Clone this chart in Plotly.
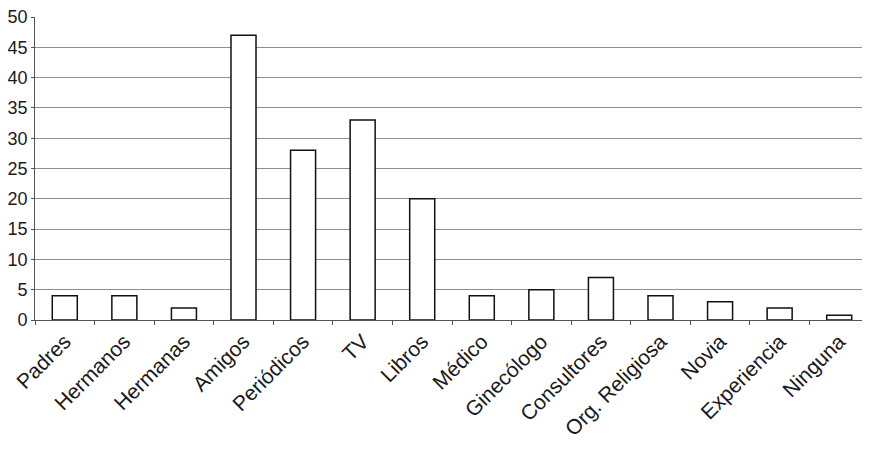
import plotly.graph_objects as go

categories = ["Padres", "Hermanos", "Hermanas", "Amigos", "Periódicos", "TV", "Libros",
              "Médico", "Ginecólogo", "Consultores", "Org. Religiosa", "Novia",
              "Experiencia", "Ninguna"]
values = [4, 4, 2, 47, 28, 33, 20, 4, 5, 7, 4, 3, 2, 0.8]
y_ticks = [0, 5, 10, 15, 20, 25, 30, 35, 40, 45, 50]

fig = go.Figure(go.Bar(
    x=categories, y=values,
    marker=dict(color="white", line=dict(color="#111111", width=1.5)),
    width=0.42,
))

fig.update_layout(
    width=862, height=441,
    margin=dict(l=27, r=1, t=9, b=129),
    paper_bgcolor="white", plot_bgcolor="white",
    showlegend=False,
    font=dict(family="Liberation Sans, Arial, sans-serif", color="#1a1a1a"),
    bargap=0.58,
)
fig.update_yaxes(
    range=[0, 50], tickvals=y_ticks,
    showgrid=True, gridcolor="#8f8f8f", gridwidth=1,
    showline=True, linecolor="#555555", linewidth=1,
    ticks="outside", ticklen=3, tickcolor="#555555",
    tickfont=dict(size=18, color="#1a1a1a"),
    ticklabeloverflow="allow",
    zeroline=False, automargin=False,
)
fig.update_xaxes(
    showline=True, linecolor="#555555", linewidth=1,
    ticks="outside", ticklen=4, tickcolor="#555555",
    tickson="boundaries",
    tickangle=-45,
    tickfont=dict(size=21, color="#1a1a1a"),
    automargin=False,
)

fig.write_html("out.html")
